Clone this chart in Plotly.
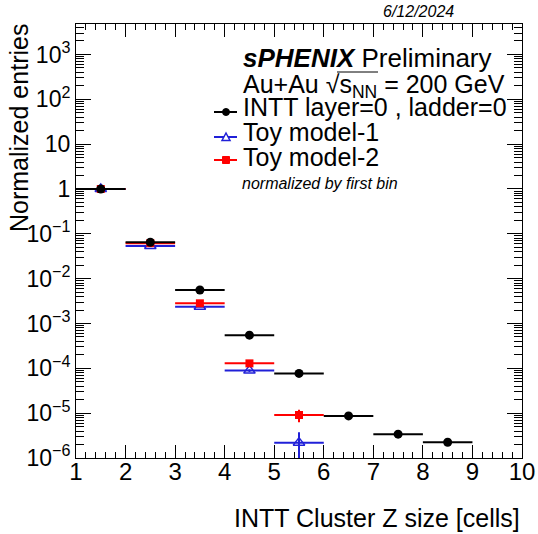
import plotly.graph_objects as go

# ---------------- data ----------------
bin_centers = [1.5, 2.5, 3.5, 4.5, 5.5, 6.5, 7.5, 8.5]
bin_halfwidth = [0.5, 0.5, 0.5, 0.5, 0.5, 0.5, 0.5, 0.5]

intt_vals = [1.0, 0.0647, 0.00558, 5.5e-4, 7.7e-5, 8.7e-6, 3.4e-6, 2.24e-6]
intt_errs = [0.004, 0.0006, 0.00012, 1.5e-5, 3e-6, 8e-7, 4e-7, 3e-7]

toy1_centers = [1.5, 2.5, 3.5, 4.5, 5.5]
toy1_vals = [1.0, 0.0536, 0.00237, 8.9e-5, 2.2e-6]
toy1_errs = [0.003, 0.0004, 5e-5, 6e-6, 1.56e-6]

toy2_centers = [1.5, 2.5, 3.5, 4.5, 5.5]
toy2_vals = [1.0, 0.0620, 0.00282, 1.29e-4, 9.1e-6]
toy2_errs = [0.003, 0.0004, 6e-5, 8e-6, 2.8e-6]

x_ticks = [1, 2, 3, 4, 5, 6, 7, 8, 9, 10]
x_ticktext = ["1", "2", "3", "4", "5", "6", "7", "8", "9", "10"]
y_ticks = [1e-6, 1e-5, 1e-4, 1e-3, 1e-2, 1e-1, 1, 10, 100, 1000]
y_ticktext = ["10<sup>\u22126</sup>", "10<sup>\u22125</sup>", "10<sup>\u22124</sup>",
              "10<sup>\u22123</sup>", "10<sup>\u22122</sup>", "10<sup>\u22121</sup>",
              "1", "10", "10<sup>2</sup>", "10<sup>3</sup>"]

series_names = ["INTT layer=0 , ladder=0", "Toy model-1", "Toy model-2"]

# ---------------- style ----------------
W, H = 538, 534
ML, MR, MT, MB = 76, 16, 24, 76
FONT = "Liberation Sans, Arial, Helvetica, sans-serif"
BLACK, BLUE, RED = "#000000", "#2020d8", "#ff0000"

x_minor = [round(a + k * 0.2, 2) for a in range(1, 10) for k in range(1, 5)]
y_minor = [k * 10.0 ** n for n in range(-6, 4) for k in range(2, 10)]

fig = go.Figure()

def add_series(xc, yv, ye, color, symbol, size, fill):
    fig.add_trace(go.Scatter(
        x=xc, y=yv, mode="markers", showlegend=False,
        marker=dict(symbol=symbol, size=size, color=fill,
                    line=dict(color=color, width=1.5 if symbol.endswith("open") else 0)),
        error_x=dict(type="data", array=bin_halfwidth[:len(xc)], color=color,
                     thickness=2, width=0),
        error_y=dict(type="data", array=ye, color=color, thickness=2, width=0),
    ))

add_series(toy1_centers, toy1_vals, toy1_errs, BLUE, "triangle-up-open", 10, BLUE)
add_series(toy2_centers, toy2_vals, toy2_errs, RED, "square", 8, RED)
add_series(bin_centers, intt_vals, intt_errs, BLACK, "circle", 9, BLACK)

# ---------------- axes ----------------
fig.update_xaxes(
    range=[1, 10], tickmode="array", tickvals=x_ticks, ticktext=x_ticktext,
    ticks="inside", ticklen=13, tickwidth=1, tickcolor=BLACK,
    minor=dict(tickmode="array", tickvals=x_minor, ticks="inside", ticklen=6,
               tickwidth=1, tickcolor=BLACK, showgrid=False),
    showline=True, linecolor=BLACK, linewidth=1, mirror="allticks",
    showgrid=False, zeroline=False, automargin=False, ticklabelstandoff=-8,
    tickfont=dict(family=FONT, size=24, color=BLACK),
)
fig.update_yaxes(
    type="log", range=[-6, 3.68], tickmode="array", tickvals=y_ticks, ticktext=y_ticktext,
    ticks="inside", ticklen=15, tickwidth=1, tickcolor=BLACK,
    minor=dict(tickmode="array", tickvals=y_minor, ticks="inside", ticklen=8,
               tickwidth=1, tickcolor=BLACK, showgrid=False),
    showline=True, linecolor=BLACK, linewidth=1, mirror="allticks",
    showgrid=False, zeroline=False, automargin=False,
    tickfont=dict(family=FONT, size=23, color=BLACK),
)

# pixel -> paper helpers (layout positions only)
PW, PH = W - ML - MR, H - MT - MB
def px(x):
    return (x - ML) / PW
def py(y):
    return (H - MB - y) / PH

ann = []
def text(x, y, s, size, xanchor="left", angle=0, yanchor="middle"):
    ann.append(dict(x=px(x), y=py(y), xref="paper", yref="paper", text=s,
                    showarrow=False, xanchor=xanchor, yanchor=yanchor,
                    textangle=angle, font=dict(family=FONT, size=size, color=BLACK)))

text(381, 12, "<i>6/12/2024</i>", 16)
text(241, 58, "<b><i>sPHENIX</i></b> Preliminary", 26)
text(241, 86, "Au+Au \u221as<sub>NN</sub> = 200 GeV", 25)
row_y = [107, 132, 157]
for name, yy in zip(series_names, row_y):
    text(241, yy, name, 25)
text(240, 183, "<i>normalized by first bin</i>", 16)
text(19, 128, "Normalized entries", 25, xanchor="center", angle=-90)
text(522, 518, "INTT Cluster Z size [cells]", 25, xanchor="right")

# legend keys and sqrt overline
shapes = []
shapes.append(dict(type="line", xref="paper", yref="paper",
                   x0=px(337), x1=px(378), y0=py(72), y1=py(72),
                   line=dict(color=BLACK, width=1)))
key_colors = [BLACK, BLUE, RED]
key_y = [112, 137, 160]
for col, yy in zip(key_colors, key_y):
    shapes.append(dict(type="line", xref="paper", yref="paper",
                       x0=px(214), x1=px(237), y0=py(yy), y1=py(yy),
                       line=dict(color=col, width=2)))
def pixshape(kind, xc, yc, x0, x1, y0, y1, **kw):
    d = dict(type=kind, xref="paper", yref="paper", xsizemode="pixel", ysizemode="pixel",
             xanchor=px(xc), yanchor=py(yc), x0=x0, x1=x1, y0=y0, y1=y1)
    d.update(kw)
    return d
shapes.append(pixshape("circle", 226, key_y[0], -3.5, 3.5, -3.5, 3.5,
                       fillcolor=BLACK, line=dict(color=BLACK, width=1)))
shapes.append(dict(type="path", xref="paper", yref="paper", xsizemode="pixel",
                   ysizemode="pixel", xanchor=px(226), yanchor=py(key_y[1]),
                   path="M -4,-3.5 L 4,-3.5 L 0,4 Z", fillcolor="white",
                   line=dict(color=BLUE, width=1.5)))
shapes.append(pixshape("rect", 226, key_y[2], -3.5, 3.5, -3.5, 3.5,
                       fillcolor=RED, line=dict(color=RED, width=1)))

fig.update_layout(
    width=W, height=H, autosize=False,
    margin=dict(l=ML, r=MR, t=MT, b=MB, pad=0, autoexpand=False),
    paper_bgcolor="white", plot_bgcolor="white",
    font=dict(family=FONT, color=BLACK),
    annotations=ann, shapes=shapes, showlegend=False,
)

fig.write_html(
    "out.html",
    config={"responsive": False},
    post_script="document.documentElement.style.overflow='hidden';"
                "document.body.style.overflow='hidden';document.body.style.margin='0';",
)
